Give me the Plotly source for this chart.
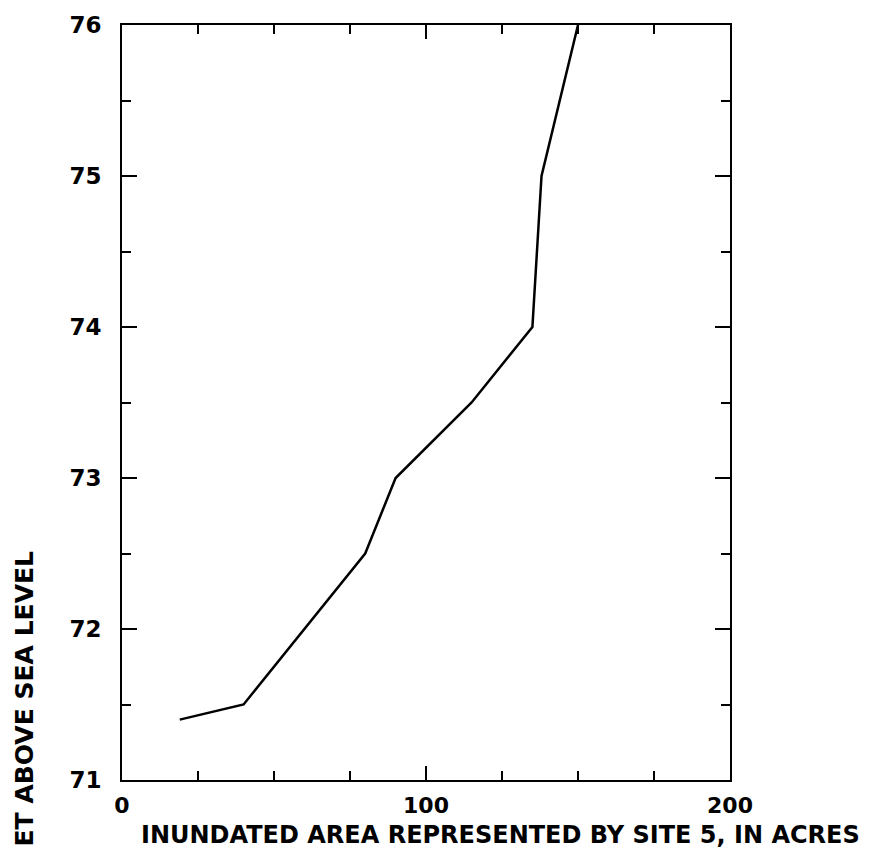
import plotly.graph_objects as go

area_acres = [19, 40, 80, 90, 115, 135, 138, 150]
stage_ft = [71.4, 71.5, 72.5, 73.0, 73.5, 74.0, 75.0, 76.0]

x_tick_vals = [0, 100, 200]
x_tick_text = ["0", "100", "200"]
y_tick_vals = [71, 72, 73, 74, 75, 76]
y_tick_text = ["71", "72", "73", "74", "75", "76"]

FONT = "DejaVu Sans"

fig = go.Figure()
fig.add_trace(go.Scatter(x=area_acres, y=stage_ft, mode="lines",
                         line=dict(color="black", width=2.5), showlegend=False))

W, H = 872, 862
L, R, T, B = 122, 142, 17, 82

fig.update_layout(
    width=W, height=H,
    margin=dict(l=L, r=R, t=T, b=B),
    paper_bgcolor="white", plot_bgcolor="white",
    font=dict(family=FONT, color="black", size=22, weight="bold"),
)
fig.update_xaxes(
    range=[0, 200], tickvals=x_tick_vals, ticktext=x_tick_text,
    ticks="inside", ticklen=14, tickwidth=1.5, tickcolor="black",
    minor=dict(dtick=25, tick0=0, ticks="inside", ticklen=9, tickwidth=1.5, tickcolor="black"),
    showline=True, linecolor="black", linewidth=2, mirror="ticks",
    showgrid=False, zeroline=False, ticklabelstandoff=5,
    tickfont=dict(family=FONT, size=22, weight="bold"),
)
fig.update_yaxes(
    range=[71, 76], tickvals=y_tick_vals, ticktext=y_tick_text,
    ticks="inside", ticklen=15, tickwidth=1.5, tickcolor="black",
    minor=dict(dtick=0.5, tick0=71, ticks="inside", ticklen=9, tickwidth=1.5, tickcolor="black"),
    showline=True, linecolor="black", linewidth=2, mirror="ticks",
    showgrid=False, zeroline=False, ticklabelstandoff=14,
    tickfont=dict(family=FONT, size=23, weight="bold"),
)

fig.add_annotation(
    text="INUNDATED AREA REPRESENTED BY SITE 5, IN ACRES",
    xref="paper", yref="paper",
    x=(500 - L) / (W - L - R), y=-(836 - (H - B)) / (H - T - B),
    xanchor="center", yanchor="middle", showarrow=False,
    font=dict(family=FONT, size=24, weight="bold"),
)
fig.add_annotation(
    text="ET ABOVE SEA LEVEL",
    xref="paper", yref="paper",
    x=-(L - 24) / (W - L - R), y=((H - B) - 546) / (H - T - B),
    xanchor="center", yanchor="top", textangle=-90, showarrow=False,
    font=dict(family=FONT, size=25, weight="bold"),
)

fig.write_html("out.html")
